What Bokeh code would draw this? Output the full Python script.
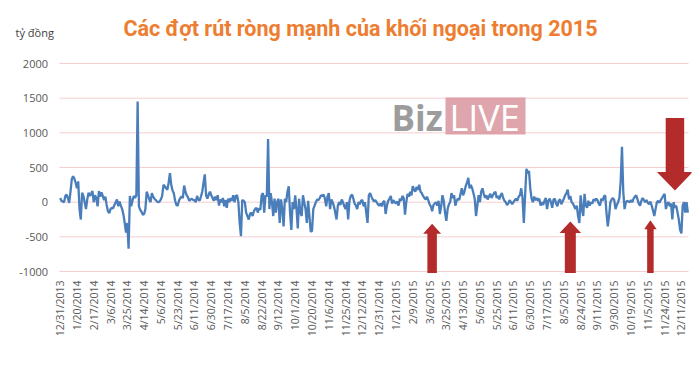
from bokeh.plotting import figure
from bokeh.models import Range1d, FixedTicker, Label
from bokeh.core.properties import value
from bokeh.embed import file_html
from bokeh.resources import INLINE
import math

# ---------------- data ----------------
tick_labels = ["12/31/2013", "1/20/2014", "2/17/2014", "3/6/2014", "3/25/2014", "4/14/2014",
               "5/6/2014", "5/23/2014", "6/11/2014", "6/30/2014", "7/17/2014", "8/5/2014",
               "8/22/2014", "9/12/2014", "10/1/2014", "10/20/2014", "11/6/2014", "11/25/2014",
               "12/12/2014", "12/31/2014", "1/21/2015", "2/9/2015", "3/6/2015", "3/25/2015",
               "4/13/2015", "5/6/2015", "5/25/2015", "6/11/2015", "6/30/2015", "7/17/2015",
               "8/5/2015", "8/24/2015", "9/11/2015", "9/30/2015", "10/19/2015", "11/5/2015",
               "11/24/2015", "12/11/2015"]
tick_step = 13

net_2014a = [60, 20, 10, 0, 90, 110, 60, -10, 150, 330, 375, 340, 280,
             200, 300, -100, -250, 135, 90, 0, -100, 40, 135, 90, 120, 160,
             0, 100, 60, -60, 160, 80, 140, 90, 30, 80, -40, -130, -160,
             -100, -80, -90, -40, 0, 40, -60, 10, -50, -100, -180, -300, -440,
             -300, -670, 90, -60, 20, 90, 60, 100, 1450, -60, -110, -140, -180,
             -170, -100, 150, 100, 40, 0, 130, 80, 50, 30, 10, 0, 10,
             40, 90, 250, 230, 200, 180, 280, 420, 250, 170, 130, 20, -40,
             -50, 20, 60, 80, 60, 240, 150, 100, 70, 20, 40, 50, 30,
             30, 0, 90, 40, 20, 80, 150, 280, 400, 100, 50, 110, 150,
             100, 60, 20, 80, 30, 100, -50, 40, 0, 60, -60, 30, -80]
net_2014b = [50, 0, 60, 20, 100, 0, 90, 100, 0, -300, -490, 30, 20,
             0, -150, -200, -250, -170, -150, -200, -130, -100, -80, -150, -90, -110,
             100, 130, -150, 100, 80, 910, -100, 130, 0, -200, 50, -150, 0,
             50, -300, 40, -100, -350, 50, 0, 150, 230, -150, -400, 0, -100,
             100, -100, -380, 50, -150, -200, 100, 0, -100, -300, 20, -200, -420,
             -420, -100, -50, 0, 40, 30, 60, 100, 90, 110, 50, -60, 80,
             130, -100, 40, 0, -60, -150, -250, -50, 0, -40, 40, 0, -60,
             -100, 0, -250, 20, 90, 110, 50, -20, -50, -100, 0, -30, 20,
             30, -60, 0, -150, -300, 100, 130, 80, 40, 10, 30, 0, -30,
             -50, -20, -60, 0, 20, -170, -50, 20, 50, 90, -20, 30, 0]
net_2015a = [-20, 10, -50, 50, 20, 90, 60, -180, 0, 120, 80, 150, 100,
             230, 180, 150, 220, 180, 250, 150, 130, 90, 60, 40, 80, 30,
             -30, -60, -130, -40, -20, 0, -50, 20, -170, -60, 100, 20, -150,
             -270, -100, -30, 0, 130, 60, 100, -50, 20, 50, 30, 120, 200,
             100, 150, 230, 280, 350, 200, 250, 200, 130, 50, -200, -50, 100,
             0, 150, 200, 120, 60, 100, 40, 80, 120, 60, 100, 130, 150,
             60, 90, 40, 100, 130, 60, 20, 0, -40, -20, 30, 0, -30,
             0, 30, 50, 20, 80, 100, 200, 60, -300, 100, 480, 420, 450,
             200, 50, 0, 80, 30, 60, 20, 50, -50, 0, -40, 20, 60]
net_2015b = [-100, 20, 50, 0, -80, 40, 50, -20, -60, 20, 40, -30, 10,
             50, 100, 130, 180, 40, 90, 0, -20, -60, -100, -50, -200, -300,
             100, -100, -200, 120, -50, -80, 20, -50, 0, -20, 40, 20, 50,
             30, -20, -50, 50, 20, 80, 100, -150, -350, -200, 0, 40, 60,
             30, -100, -40, 0, 60, 300, 800, 150, -100, 0, 20, 10, 0,
             30, 0, 50, 80, 100, 40, -20, -50, 20, 60, 30, 0, 30,
             -10, -30, 10, -50, -120, -200, -100, 0, 20, -10, 30, 60, 90,
             120, -100, -20, 0, -60, -20, -250, 0, -80, -50, -150, -250, -400,
             -450, -50, 0, -150, 0, -150]
net_flow = net_2014a + net_2014b + net_2015a + net_2015b
day_index = list(range(len(net_flow)))

y_ticks = [-1000, -500, 0, 500, 1000, 1500, 2000]
title_text = "Các đợt rút ròng mạnh của khối ngoại trong 2015"
unit_text = "tỷ đồng"

# highlighted sell-off spots (trading-day index, arrow tip, arrow tail)
up_arrow_at = [288, 395, 457]
up_arrow_tip = [-310, -280, -260]
up_arrow_tail = -1000
down_arrow_at = [476]
down_arrow_tip = [170]
down_arrow_tail = [1215]

# ---------------- layout ----------------
W, H = 692, 358
n = len(net_flow)
PLOT_LEFT, PLOT_TOP, PLOT_BOTTOM = 59, 63, 271      # chart area (2000 .. -1000) in page pixels
FRAME_BOTTOM = 279
BL, BR, BT, BB = 2, 1, 2, H - FRAME_BOTTOM
pxx = 629 / n                                        # px per day
pyy = (PLOT_BOTTOM - PLOT_TOP) / 3000                # px per unit
fw = W - BL - BR
x0 = -0.5 - (PLOT_LEFT - BL) / pxx
x1 = x0 + fw / pxx
y0 = -1000 - (FRAME_BOTTOM - PLOT_BOTTOM) / pyy
y1 = 2000 + (PLOT_TOP - BT) / pyy

def dx(px):
    return px / pxx

def dy(px):
    return px / pyy

def X(px):
    return x0 + (px - BL) / pxx

def Y(py):
    return y1 - (py - BT) / pyy

p = figure(width=W, height=H, output_backend="svg", toolbar_location=None,
           x_range=Range1d(x0, x1), y_range=Range1d(y0, y1),
           min_border_left=BL, min_border_right=BR, min_border_top=BT, min_border_bottom=BB)
p.outline_line_color = None
p.background_fill_color = "white"
p.border_fill_color = "white"
p.xgrid.grid_line_color = None
p.ygrid.grid_line_color = None
p.yaxis.visible = False

p.xaxis.ticker = FixedTicker(ticks=[i * tick_step for i in range(len(tick_labels))])
p.xaxis.major_label_overrides = {i * tick_step: t for i, t in enumerate(tick_labels)}
p.xaxis.major_label_orientation = math.pi / 2
p.xaxis.axis_line_color = None
p.xaxis.major_tick_line_color = None
p.xaxis.minor_tick_line_color = None
p.xaxis.major_tick_out = 0
p.xaxis.major_tick_in = 0
p.xaxis.major_label_text_color = "#595959"
p.xaxis.major_label_text_font = "Open Sans"
p.xaxis.major_label_text_font_size = "10.5px"
p.xaxis.major_label_standoff = 1

# horizontal gridlines and value labels
p.segment(x0=[-0.5] * len(y_ticks), x1=[n - 0.5] * len(y_ticks), y0=y_ticks, y1=y_ticks,
          line_color="#f3cfcf", line_width=1)
p.text(x=[X(47.5)] * len(y_ticks), y=y_ticks, text=[str(v) for v in y_ticks],
       text_align="right", text_baseline="middle", text_font=value("Open Sans"),
       text_font_size="11px", text_color="#595959")

# watermark
p.quad(left=[X(445)], right=[X(525)], top=[Y(97)], bottom=[Y(134)],
       fill_color="#d9959e", fill_alpha=0.85, line_color=None)
p.add_layout(Label(x=X(391), y=Y(117), text="Biz",
                   text_font="Open Sans", text_font_style="bold", text_font_size="35px",
                   text_color="#9c9c9c", text_baseline="middle"))
p.add_layout(Label(x=X(449), y=Y(117), text="LIVE",
                   text_font="Open Sans", text_font_size="36px",
                   text_color="white", text_baseline="middle"))

p.line(day_index, net_flow, line_color="#4A7EBB", line_width=2.3)

# arrows
def up_arrow(cx, tip, tail, shaft, head_w, head_l):
    hb = tip - dy(head_l)
    xs = [cx, cx + dx(head_w / 2), cx + dx(shaft / 2), cx + dx(shaft / 2),
          cx - dx(shaft / 2), cx - dx(shaft / 2), cx - dx(head_w / 2)]
    ys = [tip, hb, hb, tail, tail, hb, hb]
    return xs, ys

def down_arrow(cx, tip, tail, shaft, head_w, head_l):
    ht = tip + dy(head_l)
    xs = [cx, cx + dx(head_w / 2), cx + dx(shaft / 2), cx + dx(shaft / 2),
          cx - dx(shaft / 2), cx - dx(shaft / 2), cx - dx(head_w / 2)]
    ys = [tip, ht, ht, tail, tail, ht, ht]
    return xs, ys

arrow_sizes = [(9.5, 18, 10), (11, 21.5, 11.5), (6.5, 12.5, 9)]
axs, ays = [], []
for cx, tip, (s, hw, hl) in zip(up_arrow_at, up_arrow_tip, arrow_sizes):
    a, b = up_arrow(cx, tip, up_arrow_tail - dy(1.5), s, hw, hl)
    axs.append(a); ays.append(b)
for cx, tip, tail in zip(down_arrow_at, down_arrow_tip, down_arrow_tail):
    a, b = down_arrow(cx, tip, tail, 18.5, 36, 18.5)
    axs.append(a); ays.append(b)
p.patches(axs, ays, fill_color="#b32b2b", line_color=None)

# title and unit
p.add_layout(Label(x=X(360), y=Y(28), text=title_text,
                   text_font="Roboto", text_font_style="bold", text_font_size="21.5px",
                   text_color="#ED7D31", text_align="center", text_baseline="middle"))
p.add_layout(Label(x=X(15), y=Y(32), text=unit_text,
                   text_font="Open Sans", text_font_size="11px",
                   text_color="#404040", text_baseline="middle"))

open("out.html", "w").write(file_html(p, INLINE))
